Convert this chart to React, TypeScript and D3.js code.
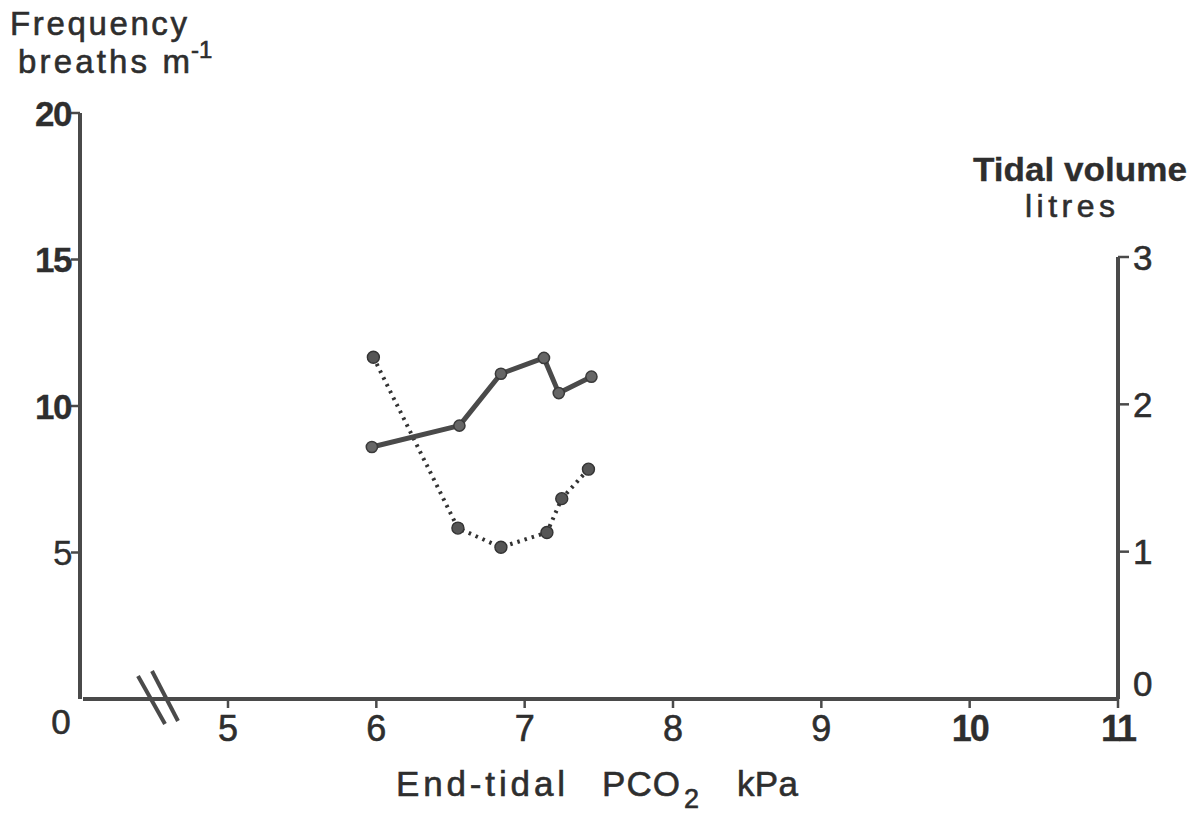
import React from 'react';
import * as d3 from 'd3';

// ---- data ----
const xTicks = [5, 6, 7, 8, 9, 10, 11];
const freqTicks = [5, 10, 15, 20];
const vtTicks = [0, 1, 2, 3];

// Frequency (breaths/min), solid line, left axis
const freqPco2 = [5.97, 6.56, 6.84, 7.13, 7.23, 7.45];
const freqValues = [8.6, 9.33, 11.1, 11.64, 10.44, 11.0];

// Tidal volume (litres), dotted line, right axis
const vtPco2 = [5.98, 6.55, 6.84, 7.15, 7.25, 7.43];
const vtValues = [2.32, 1.16, 1.03, 1.13, 1.36, 1.56];

const W = 1200;
const H = 817;
const FONT = "'Liberation Sans', Arial, Helvetica, sans-serif";
const INK = '#2e2e2e';
const LINE = '#4a4a4a';

const x = d3.scaleLinear().domain([5, 11]).range([228, 1118]);
const yL = d3.scaleLinear().domain([0, 20]).range([699, 113]);
const yR = d3.scaleLinear().domain([0, 3]).range([699, 257]);
const originX = 80;
const breakX = 158;

export default function App() {
  const freqPts = freqPco2.map((p, i) => [x(p), yL(freqValues[i])] as [number, number]);
  const vtPts = vtPco2.map((p, i) => [x(p), yR(vtValues[i])] as [number, number]);
  const line = d3.line<[number, number]>().x(d => d[0]).y(d => d[1]);
  const y0 = yL(0);
  const xRight = x(11);
  const txt = { fill: INK, stroke: INK, strokeWidth: 0.6 };

  return (
    <svg width={W} height={H} style={{ position: 'absolute', left: 0, top: 0, background: '#fff' }} fontFamily={FONT}>
      <rect x={0} y={0} width={W} height={H} fill="#fff" />

      {/* titles */}
      <text x={10} y={35} fontSize={33} {...txt} textLength={177} lengthAdjust="spacing">Frequency</text>
      <text x={18} y={73} fontSize={33} {...txt} textLength={172} lengthAdjust="spacing">breaths m</text>
      <text x={191} y={58} fontSize={24} {...txt}>-1</text>

      <text x={973} y={181} fontSize={33} fontWeight="bold" {...txt} strokeWidth={0.3} textLength={214} lengthAdjust="spacingAndGlyphs">Tidal volume</text>
      <text x={1025} y={217} fontSize={32} {...txt} textLength={90} lengthAdjust="spacing">litres</text>

      {/* x-axis title */}
      <text x={396} y={796} fontSize={35} {...txt} textLength={169} lengthAdjust="spacing">End-tidal</text>
      <text x={602} y={796} fontSize={35} {...txt} textLength={78} lengthAdjust="spacing">PCO</text>
      <text x={684} y={808} fontSize={27} {...txt}>2</text>
      <text x={737} y={796} fontSize={35} {...txt} textLength={61} lengthAdjust="spacing">kPa</text>

      {/* left axis */}
      <line x1={originX} x2={originX} y1={yL(20)} y2={y0} stroke={LINE} strokeWidth={4} />
      {freqTicks.map(t => (
        <g key={'fl' + t}>
          <line x1={originX - 9} x2={originX} y1={yL(t)} y2={yL(t)} stroke={LINE} strokeWidth={2.5} />
          <text x={originX - 9} y={yL(t)} dy="0.36em" textAnchor="end" fontSize={35}
            fontWeight={String(t).length > 1 ? 'bold' : 'normal'} {...txt} strokeWidth={0.3} letterSpacing={-1.5}>{t}</text>
        </g>
      ))}
      <text x={61} y={y0 + 22} dy="0.36em" textAnchor="middle" fontSize={35} {...txt}>0</text>

      {/* right axis */}
      <line x1={xRight} x2={xRight} y1={yR(3)} y2={y0} stroke={LINE} strokeWidth={4} />
      {vtTicks.map(t => (
        <g key={'vr' + t}>
          {t > 0 && <line x1={xRight} x2={xRight + 11} y1={yR(t)} y2={yR(t)} stroke={LINE} strokeWidth={2.5} />}
          <text x={xRight + 15} y={yR(t) + (t === 0 ? -16 : 0)} dy="0.36em" textAnchor="start" fontSize={35}
            {...txt}>{t}</text>
        </g>
      ))}

      {/* x axis */}
      <line x1={originX + 3} x2={xRight} y1={y0} y2={y0} stroke={LINE} strokeWidth={4} />
      {xTicks.map(t => (
        <g key={'x' + t}>
          <line x1={x(t)} x2={x(t)} y1={y0} y2={y0 + 9} stroke={LINE} strokeWidth={2.5} />
          <text x={x(t)} y={741} textAnchor="middle" fontSize={36}
            fontWeight={String(t).length > 1 ? 'bold' : 'normal'} {...txt}
            strokeWidth={String(t).length > 1 ? 0.3 : 0.6}
            letterSpacing={String(t).length > 1 ? -2 : 0}>{t}</text>
        </g>
      ))}
      {/* axis break */}
      <line x1={breakX - 20} y1={y0 - 23} x2={breakX + 7} y2={y0 + 25} stroke={LINE} strokeWidth={4} />
      <line x1={breakX - 6} y1={y0 - 28} x2={breakX + 20} y2={y0 + 22} stroke={LINE} strokeWidth={4} />

      {/* dotted series: tidal volume */}
      <path d={line(vtPts) || ''} fill="none" stroke="#333" strokeWidth={4} strokeDasharray="2.5 5" />
      {vtPts.map((p, i) => (
        <circle key={'v' + i} cx={p[0]} cy={p[1]} r={6} fill="#555" stroke="#333" strokeWidth={1.4} />
      ))}

      {/* solid series: frequency */}
      <path d={line(freqPts) || ''} fill="none" stroke="#4a4a4a" strokeWidth={5} strokeLinejoin="round" />
      {freqPts.map((p, i) => (
        <circle key={'f' + i} cx={p[0]} cy={p[1]} r={5.6} fill="#666" stroke="#3a3a3a" strokeWidth={1.5} />
      ))}
    </svg>
  );
}
